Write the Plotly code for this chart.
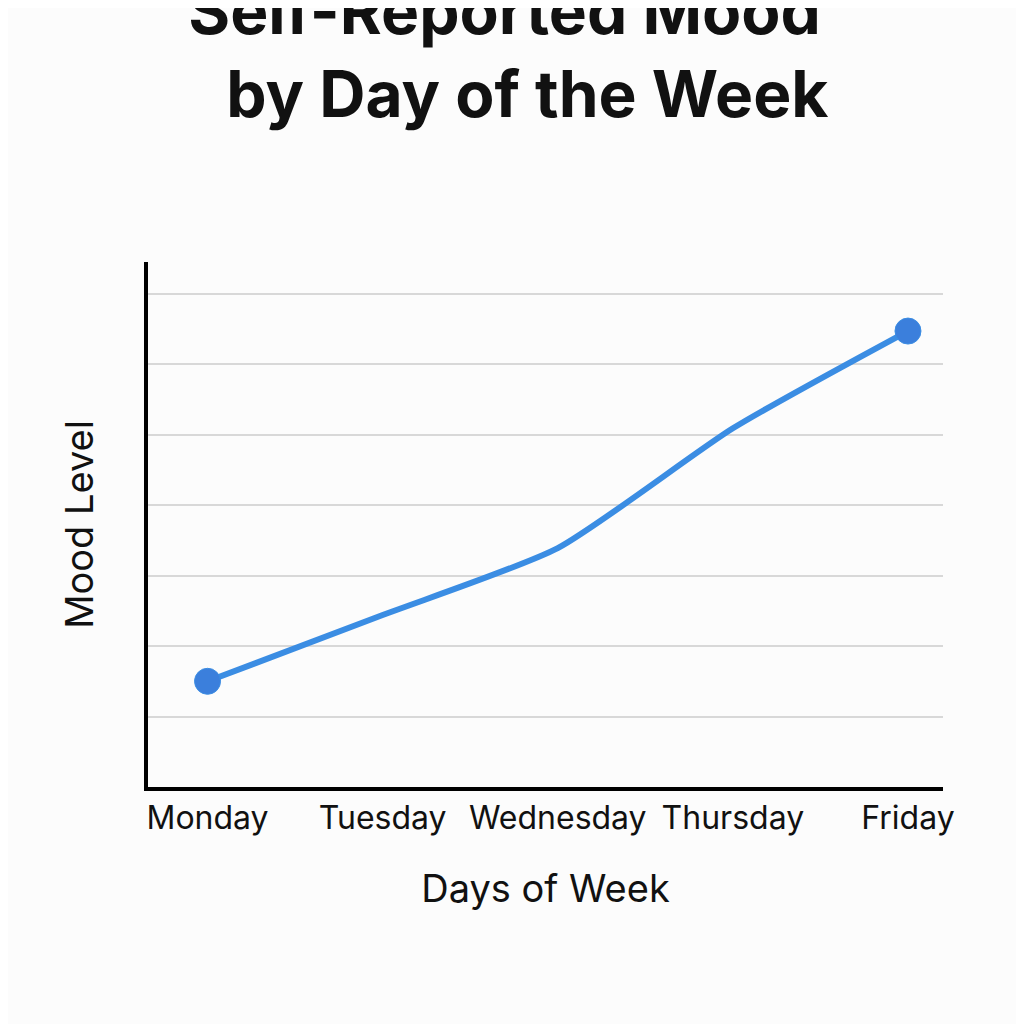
import plotly.graph_objects as go

days = ["Monday", "Tuesday", "Wednesday", "Thursday", "Friday"]
mood = [1.5, 2.44, 3.39, 5.09, 6.47]
marker_sizes = [26, 0, 0, 0, 26]
grid_levels = [1, 2, 3, 4, 5, 6, 7]

fig = go.Figure()
fig.add_trace(go.Scatter(
    x=days, y=mood, mode="lines+markers",
    line=dict(color="#3b8de3", width=6, shape="spline", smoothing=0.6),
    marker=dict(size=marker_sizes, color="#3b7fdc", opacity=1),
    showlegend=False,
))

fig.update_layout(
    width=1024, height=1024,
    paper_bgcolor="#fcfcfc", plot_bgcolor="#fcfcfc",
    margin=dict(l=140, r=89, t=254, b=245),
    font=dict(family="Inter, Noto Sans, sans-serif", color="#111"),
    title=dict(text="<b>Self-Reported Mood</b><br><b>   by Day of the Week</b>",
               x=0.485, xanchor="center", y=0.975, yanchor="top",
               font=dict(size=64, color="#111", weight=500)),
)
fig.update_xaxes(
    range=[-0.34, 4.2], showgrid=False,
    showline=True, linecolor="black", linewidth=4,
    ticks="", tickfont=dict(size=32),
    title=dict(text="Days of Week", font=dict(size=38), standoff=40),
)
fig.update_yaxes(
    range=[0, 7.45], tickvals=grid_levels, showticklabels=False,
    showgrid=True, gridcolor="#d8d8d8", gridwidth=2, zeroline=False,
    showline=True, linecolor="black", linewidth=4,
    title=dict(text="Mood Level", font=dict(size=38), standoff=40),
)

fig.write_html("out.html")
